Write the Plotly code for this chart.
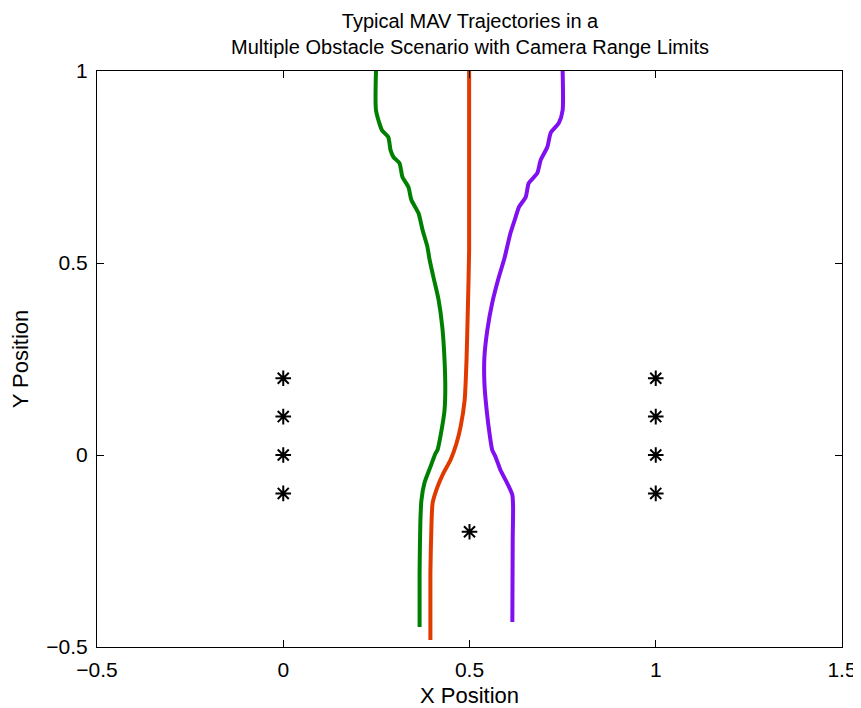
import plotly.graph_objects as go

# Trajectory data
green_x = [0.249, 0.249, 0.265, 0.282, 0.288, 0.296, 0.312, 0.320, 0.336, 0.344, 0.363, 0.374, 0.387,
           0.392, 0.403, 0.417, 0.427, 0.433, 0.435, 0.433, 0.425, 0.414, 0.409, 0.395, 0.379, 0.371,
           0.368, 0.366, 0.366]
green_y = [1.0, 0.898, 0.846, 0.828, 0.794, 0.776, 0.760, 0.724, 0.698, 0.664, 0.630, 0.586, 0.542,
           0.513, 0.464, 0.404, 0.333, 0.247, 0.169, 0.117, 0.065, 0.013, 0.005, -0.031, -0.073, -0.117,
           -0.177, -0.307, -0.448]

red_x = [0.499, 0.499, 0.495, 0.492, 0.487, 0.476, 0.465, 0.449, 0.430, 0.414, 0.401, 0.398, 0.395, 0.395]
red_y = [1.0, 0.534, 0.359, 0.247, 0.143, 0.073, 0.030, -0.013, -0.047, -0.083, -0.125, -0.177, -0.307, -0.482]

purple_x = [0.750, 0.750, 0.740, 0.718, 0.709, 0.691, 0.682, 0.659, 0.651, 0.633, 0.624, 0.610, 0.594,
            0.579, 0.561, 0.548, 0.540, 0.540, 0.546, 0.555, 0.561, 0.570, 0.583, 0.601, 0.615, 0.617,
            0.616, 0.615]
purple_y = [1.0, 0.898, 0.865, 0.839, 0.802, 0.768, 0.734, 0.708, 0.672, 0.646, 0.620, 0.578, 0.513,
            0.464, 0.396, 0.326, 0.255, 0.188, 0.117, 0.047, 0.013, -0.005, -0.039, -0.073, -0.104, -0.135,
            -0.221, -0.435]

obstacle_x = [0, 0, 0, 0, 1, 1, 1, 1, 0.5]
obstacle_y = [0.2, 0.1, 0.0, -0.1, 0.2, 0.1, 0.0, -0.1, -0.2]

title_lines = ["Typical MAV Trajectories in a", "Multiple Obstacle Scenario with Camera Range Limits"]

x_ticks = [-0.5, 0, 0.5, 1, 1.5]
x_tick_labels = ["\u22120.5", "0", "0.5", "1", "1.5"]
y_ticks = [-0.5, 0, 0.5, 1]
y_tick_labels = ["\u22120.5", "0", "0.5", "1"]

fig = go.Figure()
for xs, ys, col in [(green_x, green_y, "#008000"), (red_x, red_y, "#e03a00"), (purple_x, purple_y, "#8010f0")]:
    fig.add_trace(go.Scatter(x=xs, y=ys, mode="lines",
                             line=dict(color=col, width=4, shape="spline", smoothing=0.6),
                             showlegend=False, hoverinfo="skip"))

fig.add_trace(go.Scatter(x=obstacle_x, y=obstacle_y, mode="markers",
                         marker=dict(symbol="asterisk-open", size=13, color="black",
                                     line=dict(color="black", width=2)),
                         showlegend=False))

font = "Liberation Sans, Arial, sans-serif"
fig.add_annotation(text="<br>".join(title_lines), xref="paper", yref="paper", x=0.5, y=1, yshift=63,
                   xanchor="center", yanchor="top", showarrow=False, align="center",
                   font=dict(family=font, size=20, color="black"))

fig.update_layout(
    width=853, height=700,
    paper_bgcolor="white", plot_bgcolor="white",
    margin=dict(l=89, r=19, t=63, b=61),
    font=dict(family=font, size=21, color="black"),
)
fig.update_xaxes(range=[-0.5, 1.5], tickvals=x_ticks, ticktext=x_tick_labels,
                 showgrid=False, zeroline=False, showline=True, linecolor="black", linewidth=1,
                 mirror="ticks", ticks="inside", ticklen=7, tickcolor="black", automargin=False,
                 ticklabelstandoff=4,
                 title=dict(text="X Position", font=dict(size=22), standoff=10))
fig.update_yaxes(range=[-0.5, 1.0], tickvals=y_ticks, ticktext=y_tick_labels,
                 showgrid=False, zeroline=False, showline=True, linecolor="black", linewidth=1,
                 mirror="ticks", ticks="inside", ticklen=7, tickcolor="black", automargin=False,
                 ticklabelstandoff=4,
                 title=dict(text="Y Position", font=dict(size=22), standoff=14))

fig.write_html("out.html")
